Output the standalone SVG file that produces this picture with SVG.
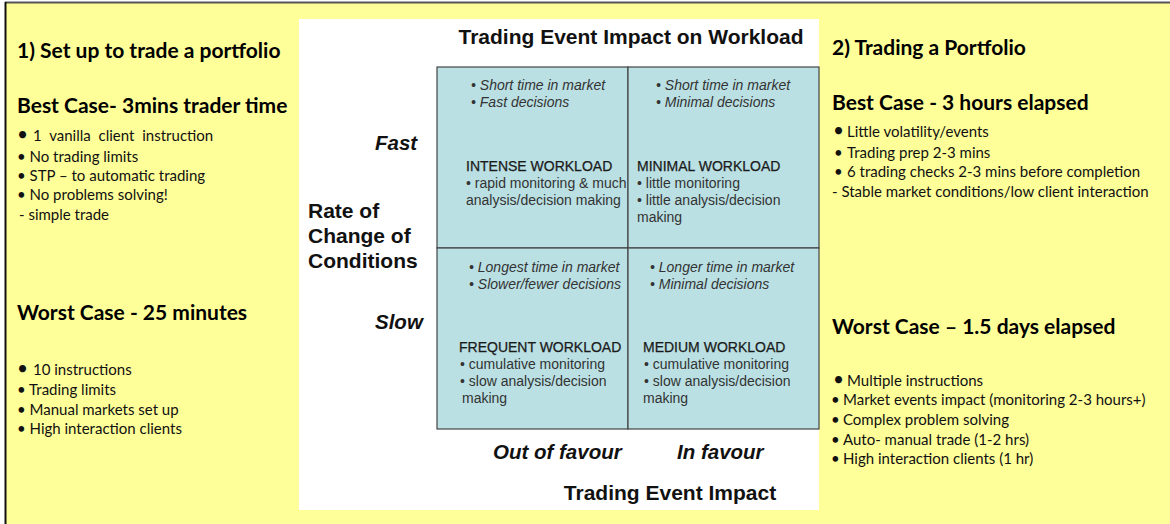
<svg xmlns="http://www.w3.org/2000/svg" width="1170" height="524" viewBox="0 0 1170 524">
<style>
.h{font-family:Lato,"Liberation Sans",sans-serif;font-weight:bold;font-size:21px;fill:#000}
.b{font-family:Lato,"Liberation Sans",sans-serif;font-size:15px;fill:#111}
.ax{font-family:"Liberation Sans",Arial,sans-serif;font-weight:bold;font-size:21px;fill:#111}
.axi{font-family:"Liberation Sans",Arial,sans-serif;font-weight:bold;font-style:italic;font-size:20.5px;fill:#111}
.qi{font-family:"Liberation Sans",Arial,sans-serif;font-style:italic;font-size:14px;fill:#333}
.qh{font-family:"Liberation Sans",Arial,sans-serif;font-size:14px;fill:#1a1a1a;stroke:#1a1a1a;stroke-width:0.25}
.qb{font-family:"Liberation Sans",Arial,sans-serif;font-size:14px;fill:#333}
.cell{fill:#BAE0E3;stroke:#444;stroke-width:1.2}
</style>
<rect x="0" y="0" width="1170" height="524" fill="#fff"/>
<rect x="6" y="3" width="1164" height="521" fill="#FFFF99"/>
<line x1="5" y1="2.5" x2="1170" y2="2.5" stroke="#555" stroke-width="2"/>
<line x1="5.5" y1="2" x2="5.5" y2="524" stroke="#111" stroke-width="2"/>

<g id="left-panel">
<text class="h" x="17" y="58">1) Set up to trade a portfolio</text>
<text class="h" x="17" y="113">Best Case- 3mins trader time</text>
<text class="b" x="17" y="141"><tspan font-size="19">•</tspan><tspan x="33" word-spacing="4">1 vanilla client instruction</tspan></text>
<text class="b" x="17" y="162">• No trading limits</text>
<text class="b" x="17" y="181">• STP – to automatic trading</text>
<text class="b" x="17" y="200">• No problems solving!</text>
<text class="b" x="19" y="220">- simple trade</text>
<text class="h" x="17" y="320">Worst Case - 25 minutes</text>
<text class="b" x="17" y="375"><tspan font-size="19">•</tspan><tspan x="33">10 instructions</tspan></text>
<text class="b" x="17" y="395">• Trading limits</text>
<text class="b" x="17" y="415">• Manual markets set up</text>
<text class="b" x="17" y="434">• High interaction clients</text>
</g>

<g id="matrix-panel">
<rect x="299" y="19" width="520" height="491" fill="#fff"/>
<text class="ax" x="631" y="44" text-anchor="middle">Trading Event Impact on Workload</text>
<text class="axi" x="375" y="150">Fast</text>
<text class="ax" x="308" y="218">Rate of</text>
<text class="ax" x="308" y="243">Change of</text>
<text class="ax" x="308" y="268">Conditions</text>
<text class="axi" x="375" y="329">Slow</text>
<text class="axi" x="493" y="459">Out of favour</text>
<text class="axi" x="677" y="459">In favour</text>
<text class="ax" x="670" y="500" text-anchor="middle">Trading Event Impact</text>
</g>

<g id="q-intense">
<rect class="cell" x="437" y="67" width="191" height="181"/>
<text class="qi" x="471" y="90">• Short time in market</text>
<text class="qi" x="471" y="107">• Fast decisions</text>
<text class="qh" x="466" y="171">INTENSE WORKLOAD</text>
<text class="qb" x="466" y="188">• rapid monitoring &amp; much</text>
<text class="qb" x="466" y="205">analysis/decision making</text>
</g>
<g id="q-minimal">
<rect class="cell" x="628" y="67" width="191" height="181"/>
<text class="qi" x="656" y="90">• Short time in market</text>
<text class="qi" x="656" y="107">• Minimal decisions</text>
<text class="qh" x="637" y="171">MINIMAL WORKLOAD</text>
<text class="qb" x="637" y="188">• little monitoring</text>
<text class="qb" x="637" y="205">• little analysis/decision</text>
<text class="qb" x="637" y="222">making</text>
</g>
<g id="q-frequent">
<rect class="cell" x="437" y="248" width="191" height="181"/>
<text class="qi" x="469" y="272">• Longest time in market</text>
<text class="qi" x="469" y="289">• Slower/fewer decisions</text>
<text class="qh" x="459" y="352">FREQUENT WORKLOAD</text>
<text class="qb" x="460" y="369">• cumulative monitoring</text>
<text class="qb" x="460" y="386">• slow analysis/decision</text>
<text class="qb" x="462" y="403">making</text>
</g>
<g id="q-medium">
<rect class="cell" x="628" y="248" width="191" height="181"/>
<text class="qi" x="650" y="272">• Longer time in market</text>
<text class="qi" x="650" y="289">• Minimal decisions</text>
<text class="qh" x="643" y="352">MEDIUM WORKLOAD</text>
<text class="qb" x="644" y="369">• cumulative monitoring</text>
<text class="qb" x="644" y="386">• slow analysis/decision</text>
<text class="qb" x="643" y="403">making</text>
</g>

<g id="right-panel">
<text class="h" x="832" y="55">2) Trading a Portfolio</text>
<text class="h" x="832" y="110">Best Case - 3 hours elapsed</text>
<text class="b" x="833" y="137"><tspan font-size="19">•</tspan><tspan x="847">Little volatility/events</tspan></text>
<text class="b" x="834" y="158">•<tspan x="847">Trading prep 2-3 mins</tspan></text>
<text class="b" x="834" y="177">•<tspan x="847">6 trading checks 2-3 mins before completion</tspan></text>
<text class="b" x="832" y="197">- Stable market conditions/low client interaction</text>
<text class="h" x="832" y="334">Worst Case – 1.5 days elapsed</text>
<text class="b" x="833" y="386"><tspan font-size="19">•</tspan><tspan x="847">Multiple instructions</tspan></text>
<text class="b" x="831" y="405">•<tspan x="843">Market events impact (monitoring 2-3 hours+)</tspan></text>
<text class="b" x="831" y="425">•<tspan x="843">Complex problem solving</tspan></text>
<text class="b" x="831" y="445">•<tspan x="843">Auto- manual trade (1-2 hrs)</tspan></text>
<text class="b" x="831" y="464">•<tspan x="843">High interaction clients (1 hr)</tspan></text>
</g>
</svg>
